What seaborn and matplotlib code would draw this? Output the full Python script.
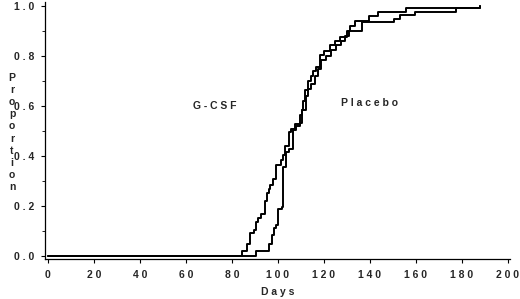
import matplotlib
matplotlib.use('Agg')
import matplotlib.pyplot as plt
import seaborn as sns
import pandas as pd
from matplotlib.ticker import MultipleLocator

sns.set_theme(style="ticks")
plt.rcParams['font.family'] = ['Liberation Sans', 'DejaVu Sans']

# cumulative proportion (step curve, post)
gcsf_days = [0, 84.2, 86.7, 88.1, 89.6, 90.4, 91.4, 92.5, 94.6, 95.4, 96.2, 96.8,
             97.7, 99.0, 101.2, 102.3, 103.2, 104.9, 105.9, 107.5, 109.6, 110.3,
             111.0, 111.7, 113.0, 114.5, 115.5, 116.8, 118.3, 120.0, 122.6, 125.0,
             127.0, 130.0, 131.5, 133.5, 139.6, 143.5, 155.7, 188.0]
gcsf_prop = [0, 0.02, 0.047, 0.091, 0.104, 0.137, 0.151, 0.168, 0.221, 0.251, 0.267, 0.284,
             0.31, 0.364, 0.384, 0.404, 0.44, 0.497, 0.507, 0.53, 0.564, 0.584,
             0.62, 0.664, 0.70, 0.72, 0.74, 0.757, 0.804, 0.82, 0.844, 0.86,
             0.877, 0.90, 0.92, 0.941, 0.961, 0.975, 0.993, 1.0]

placebo_days = [0, 90.7, 96.1, 97.5, 98.4, 99.4, 99.9, 101.6, 102.3, 103.5, 104.9,
                106.4, 107.8, 109.6, 110.3, 112.2, 113.2, 114.5, 116.0, 117.5, 118.8,
                121.0, 123.3, 125.5, 127.5, 129.0, 131.0, 136.4, 150.6, 153.0, 159.6,
                177.7, 188.0]
placebo_prop = [0, 0.02, 0.047, 0.084, 0.111, 0.124, 0.187, 0.195, 0.355, 0.417, 0.427,
                0.504, 0.52, 0.533, 0.584, 0.64, 0.67, 0.69, 0.72, 0.75, 0.784,
                0.80, 0.824, 0.845, 0.86, 0.88, 0.90, 0.937, 0.95, 0.964, 0.978,
                0.993, 1.0]

x_ticks = [0, 20, 40, 60, 80, 100, 120, 140, 160, 180, 200]
y_ticks = [0.0, 0.2, 0.4, 0.6, 0.8, 1.0]
y_ticklabels = ['0.0', '0.2', '0.4', '0.6', '0.8', '1.0']

def spaced(s):
    return ' '.join(s)

df = pd.concat([
    pd.DataFrame({'Days': gcsf_days, 'Proportion': gcsf_prop, 'grp': 'G-CSF'}),
    pd.DataFrame({'Days': placebo_days, 'Proportion': placebo_prop, 'grp': 'Placebo'}),
])

fig = plt.figure(figsize=(5.2, 2.99), dpi=100)
fig.patch.set_facecolor('white')
ax = fig.add_axes([45/520, 40/299, 465/520, 257/299])

sns.lineplot(data=df, x='Days', y='Proportion', units='grp', estimator=None,
             color='black', linewidth=1.4, drawstyle='steps-post', ax=ax,
             sort=False, legend=False)

ax.set_xlim(-1.3, 201)
ax.set_ylim(-0.012, 1.016)
sns.despine(ax=ax)
for s in ['left', 'bottom']:
    ax.spines[s].set_color('black')
    ax.spines[s].set_linewidth(0.9)

fs = 7.5
ax.set_xticks(x_ticks)
ax.set_xticklabels([spaced(str(t)) for t in x_ticks], fontsize=fs, fontweight='bold')
ax.set_yticks(y_ticks)
ax.set_yticklabels([spaced(t) for t in y_ticklabels], fontsize=fs, fontweight='bold')
ax.yaxis.set_minor_locator(MultipleLocator(0.1))
ax.tick_params(axis='both', which='major', length=3, width=0.8, color='black', pad=5)
ax.tick_params(axis='y', which='minor', length=2, width=0.6, color='black')

ax.set_xlabel(spaced('Days'), fontsize=fs, fontweight='bold', labelpad=5)
ax.set_ylabel('')

# stacked vertical y label, one letter per row
ylabel = 'Proportion'
top_px, step_px = 78, 12.1
for i, ch in enumerate(ylabel):
    fig.text(12/520, 1 - (top_px + i*step_px)/299, ch, fontsize=fs,
             fontweight='bold', ha='center', va='center')

ax.text(72.6, 0.60, spaced('G-CSF'), fontsize=fs, fontweight='bold',
        ha='center', va='center')
ax.text(140, 0.612, spaced('Placebo'), fontsize=fs, fontweight='bold',
        ha='center', va='center')

ax.grid(False)
fig.savefig('out.png', dpi=100, facecolor='white')
